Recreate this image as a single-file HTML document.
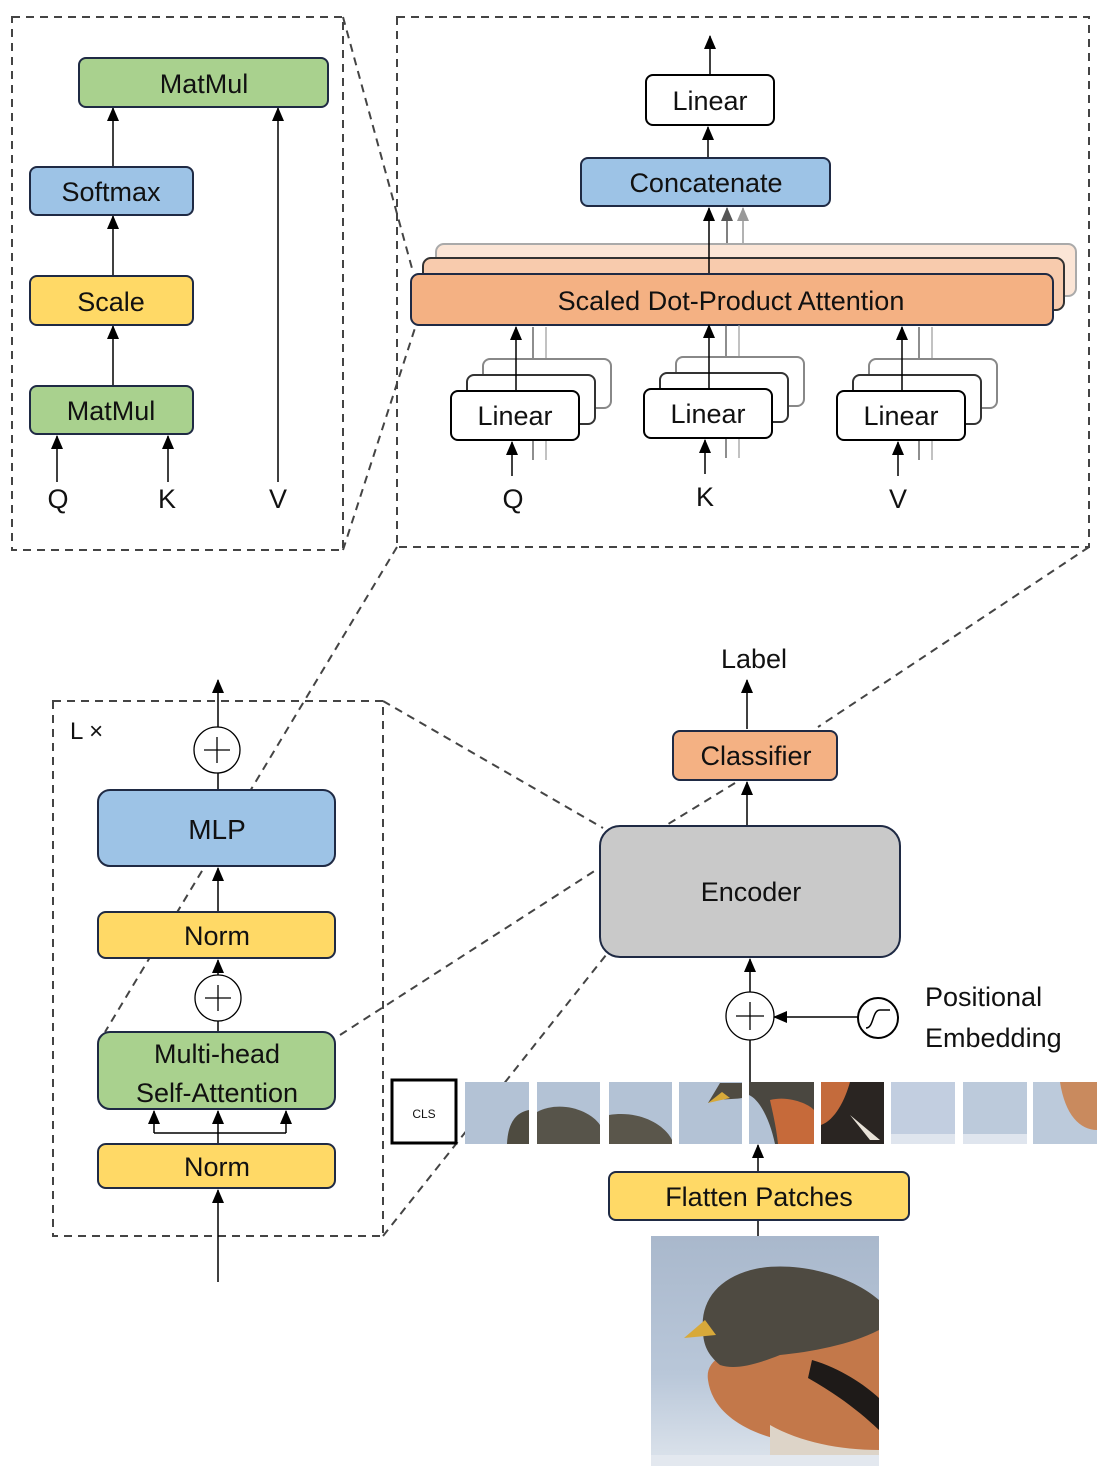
<!DOCTYPE html>
<html><head><meta charset="utf-8"><style>
html,body{margin:0;padding:0;background:#fff;}
svg{display:block;}
text{font-family:"Liberation Sans",sans-serif;fill:#111;}
</style></head><body>
<svg width="1116" height="1480" viewBox="0 0 1116 1480" xmlns="http://www.w3.org/2000/svg">
<defs>
<marker id="a" markerWidth="14" markerHeight="12" refX="13" refY="6" orient="auto" markerUnits="userSpaceOnUse" viewBox="0 0 14 12"><path d="M0,0 L14,6 L0,12 Z" fill="#000"/></marker>
<marker id="ag" markerWidth="14" markerHeight="12" refX="13" refY="6" orient="auto" markerUnits="userSpaceOnUse" viewBox="0 0 14 12"><path d="M0,0 L14,6 L0,12 Z" fill="#555"/></marker>
<marker id="al" markerWidth="14" markerHeight="12" refX="13" refY="6" orient="auto" markerUnits="userSpaceOnUse" viewBox="0 0 14 12"><path d="M0,0 L14,6 L0,12 Z" fill="#999"/></marker>
<linearGradient id="sky" x1="0" y1="0" x2="0" y2="1"><stop offset="0" stop-color="#a9b8cc"/><stop offset="0.6" stop-color="#b9c7d9"/><stop offset="1" stop-color="#dde4ec"/></linearGradient>
</defs>

<g fill="none" stroke="#444" stroke-width="2" stroke-dasharray="8,6">
<rect x="12" y="17" width="331" height="533"/>
<rect x="397" y="17" width="692" height="530"/>
<rect x="53" y="701" width="330" height="535"/>
<line x1="343" y1="17" x2="413" y2="272"/>
<line x1="343" y1="550" x2="415" y2="328"/>
<line x1="397" y1="547" x2="105" y2="1032"/>
<line x1="1089" y1="547" x2="818" y2="727"/>
<line x1="735" y1="783" x2="665" y2="826"/>
<line x1="383" y1="701" x2="603" y2="828"/>
<line x1="340" y1="1035" x2="596" y2="870"/>
<line x1="383" y1="1236" x2="606" y2="955"/>
</g>

<g stroke="#000" stroke-width="1.5" fill="none">
<line x1="57" y1="482" x2="57" y2="436" marker-end="url(#a)"/>
<line x1="168" y1="482" x2="168" y2="436" marker-end="url(#a)"/>
<line x1="278" y1="482" x2="278" y2="108" marker-end="url(#a)"/>
<line x1="113" y1="386" x2="113" y2="326" marker-end="url(#a)"/>
<line x1="113" y1="276" x2="113" y2="216" marker-end="url(#a)"/>
<line x1="113" y1="167" x2="113" y2="108" marker-end="url(#a)"/>
<line x1="710" y1="75" x2="710" y2="36" marker-end="url(#a)"/>
<line x1="708" y1="158" x2="708" y2="127" marker-end="url(#a)"/>
<line x1="727" y1="258" x2="727" y2="208" stroke="#555" marker-end="url(#ag)"/>
<line x1="743" y1="244" x2="743" y2="208" stroke="#999" marker-end="url(#al)"/>
</g>
<rect x="436" y="244" width="640" height="52" rx="8" fill="#fbe5d6" stroke="#aaa" stroke-width="2"/>
<rect x="423" y="258" width="641" height="52" rx="8" fill="#f8cbad" stroke="#333" stroke-width="2"/>
<line x1="709" y1="274" x2="709" y2="208" stroke="#000" stroke-width="1.5" marker-end="url(#a)"/>
<rect x="411" y="274" width="642" height="51" rx="8" fill="#f4b183" stroke="#1f2a44" stroke-width="2"/>
<text x="731" y="310" font-size="27" text-anchor="middle">Scaled Dot-Product Attention</text>

<g id="ls">
<line x1="533" y1="460" x2="533" y2="327" stroke="#444" stroke-width="1.2"/>
<line x1="546" y1="460" x2="546" y2="327" stroke="#999" stroke-width="1.2"/>
<rect x="483" y="359" width="128" height="49" rx="7" fill="#fff" stroke="#888" stroke-width="2"/>
<rect x="467" y="375" width="128" height="49" rx="7" fill="#fff" stroke="#333" stroke-width="2"/>
<rect x="451" y="391" width="128" height="49" rx="7" fill="#fff" stroke="#000" stroke-width="2"/>
<line x1="516" y1="391" x2="516" y2="327" stroke="#000" stroke-width="1.5" marker-end="url(#a)"/>
<line x1="512" y1="476" x2="512" y2="442" stroke="#000" stroke-width="1.5" marker-end="url(#a)"/>
<text x="515" y="425" font-size="27" text-anchor="middle">Linear</text>
</g>
<use href="#ls" x="193" y="-2"/>
<use href="#ls" x="386" y="0"/>
<text x="513" y="508" font-size="27" text-anchor="middle">Q</text>
<text x="705" y="506" font-size="27" text-anchor="middle">K</text>
<text x="898" y="508" font-size="27" text-anchor="middle">V</text>

<rect x="581" y="158" width="249" height="48" rx="7" fill="#9dc3e6" stroke="#1f2a44" stroke-width="2"/>
<text x="706" y="192" font-size="27" text-anchor="middle">Concatenate</text>
<rect x="646" y="75" width="128" height="50" rx="7" fill="#fff" stroke="#000" stroke-width="2"/>
<text x="710" y="110" font-size="27" text-anchor="middle">Linear</text>

<rect x="79" y="58" width="249" height="49" rx="7" fill="#a9d18e" stroke="#1f2a44" stroke-width="2"/>
<text x="204" y="93" font-size="27" text-anchor="middle">MatMul</text>
<rect x="30" y="167" width="163" height="48" rx="7" fill="#9dc3e6" stroke="#1f2a44" stroke-width="2"/>
<text x="111" y="201" font-size="27" text-anchor="middle">Softmax</text>
<rect x="30" y="276" width="163" height="49" rx="7" fill="#ffd966" stroke="#1f2a44" stroke-width="2"/>
<text x="111" y="311" font-size="27" text-anchor="middle">Scale</text>
<rect x="30" y="386" width="163" height="48" rx="7" fill="#a9d18e" stroke="#1f2a44" stroke-width="2"/>
<text x="111" y="420" font-size="27" text-anchor="middle">MatMul</text>
<text x="58" y="508" font-size="27" text-anchor="middle">Q</text>
<text x="167" y="508" font-size="27" text-anchor="middle">K</text>
<text x="278" y="508" font-size="27" text-anchor="middle">V</text>

<text x="70" y="739" font-size="24">L ×</text>
<g stroke="#000" stroke-width="1.5" fill="none">
<line x1="218" y1="727" x2="218" y2="680" marker-end="url(#a)"/>
<line x1="218" y1="790" x2="218" y2="773"/>
<line x1="218" y1="912" x2="218" y2="868" marker-end="url(#a)"/>
<line x1="218" y1="975" x2="218" y2="960" marker-end="url(#a)"/>
<line x1="218" y1="1032" x2="218" y2="1021"/>
<line x1="218" y1="1144" x2="218" y2="1111" marker-end="url(#a)"/>
<polyline points="154,1133 286,1133"/>
<line x1="154" y1="1133" x2="154" y2="1111" marker-end="url(#a)"/>
<line x1="286" y1="1133" x2="286" y2="1111" marker-end="url(#a)"/>
<line x1="218" y1="1282" x2="218" y2="1190" marker-end="url(#a)"/>
</g>
<g stroke="#000" stroke-width="1.3" fill="#fff">
<circle cx="217" cy="750" r="23"/>
<circle cx="218" cy="998" r="23"/>
</g>
<g stroke="#000" stroke-width="1.3">
<line x1="204" y1="750" x2="230" y2="750"/><line x1="217" y1="737" x2="217" y2="763"/>
<line x1="205" y1="998" x2="231" y2="998"/><line x1="218" y1="985" x2="218" y2="1011"/>
</g>
<rect x="98" y="790" width="237" height="76" rx="12" fill="#9dc3e6" stroke="#1f2a44" stroke-width="2"/>
<text x="217" y="839" font-size="28" text-anchor="middle">MLP</text>
<rect x="98" y="912" width="237" height="46" rx="8" fill="#ffd966" stroke="#1f2a44" stroke-width="2"/>
<text x="217" y="945" font-size="27" text-anchor="middle">Norm</text>
<rect x="98" y="1032" width="237" height="77" rx="12" fill="#a9d18e" stroke="#1f2a44" stroke-width="2"/>
<text x="217" y="1063" font-size="27" text-anchor="middle">Multi-head</text>
<text x="217" y="1102" font-size="27" text-anchor="middle">Self-Attention</text>
<rect x="98" y="1144" width="237" height="44" rx="8" fill="#ffd966" stroke="#1f2a44" stroke-width="2"/>
<text x="217" y="1176" font-size="27" text-anchor="middle">Norm</text>

<text x="754" y="668" font-size="27" text-anchor="middle">Label</text>
<g stroke="#000" stroke-width="1.5" fill="none">
<line x1="747" y1="729" x2="747" y2="680" marker-end="url(#a)"/>
<line x1="747" y1="826" x2="747" y2="782" marker-end="url(#a)"/>
<line x1="750" y1="992" x2="750" y2="959" marker-end="url(#a)"/>
<line x1="750" y1="1040" x2="750" y2="1082"/>
<line x1="858" y1="1017" x2="774" y2="1017" marker-end="url(#a)"/>
<line x1="758" y1="1172" x2="758" y2="1145" marker-end="url(#a)"/>
<line x1="758" y1="1236" x2="758" y2="1221"/>
</g>
<rect x="673" y="731" width="164" height="49" rx="7" fill="#f4b183" stroke="#1f2a44" stroke-width="2"/>
<text x="756" y="765" font-size="27" text-anchor="middle">Classifier</text>
<rect x="600" y="826" width="300" height="131" rx="20" fill="#c9c9c9" stroke="#1f2a44" stroke-width="2"/>
<text x="751" y="901" font-size="27" text-anchor="middle">Encoder</text>
<circle cx="750" cy="1016" r="24" fill="#fff" stroke="#000" stroke-width="1.3"/>
<line x1="736" y1="1016" x2="764" y2="1016" stroke="#000" stroke-width="1.3"/>
<line x1="750" y1="1002" x2="750" y2="1030" stroke="#000" stroke-width="1.3"/>
<circle cx="878" cy="1018" r="20" fill="#fff" stroke="#000" stroke-width="2"/>
<path d="M866,1028 C874,1028 872,1010 880,1010 L890,1010" fill="none" stroke="#000" stroke-width="1.5"/>
<text x="925" y="1006" font-size="27">Positional</text>
<text x="925" y="1047" font-size="27">Embedding</text>

<rect x="392" y="1080" width="64" height="63" fill="#fff" stroke="#000" stroke-width="3"/>
<text x="424" y="1118" font-size="12" text-anchor="middle">CLS</text>
<g>
<rect x="465" y="1082" width="64" height="62" fill="#b3c2d5"/>
<path d="M507,1144 C508,1120 518,1112 529,1110 L529,1144 Z" fill="#4e4b40"/>
<rect x="537" y="1082" width="63" height="62" fill="#b3c2d5"/>
<path d="M537,1144 L537,1112 C560,1100 590,1110 600,1125 L600,1144 Z" fill="#57544a"/>
<rect x="609" y="1082" width="63" height="62" fill="#b3c2d5"/>
<path d="M609,1144 L609,1115 C640,1110 665,1125 672,1140 L672,1144 Z" fill="#5a564b"/>
<rect x="679" y="1082" width="63" height="62" fill="#b3c2d5"/>
<path d="M720,1083 L742,1083 L742,1098 C730,1100 720,1098 708,1103 Z" fill="#4f4b42"/>
<path d="M708,1103 L722,1092 L730,1098 Z" fill="#d6a93a"/>
<rect x="749" y="1082" width="65" height="62" fill="#b3c2d5"/>
<path d="M749,1082 L814,1082 L814,1144 L775,1144 C770,1120 760,1100 749,1095 Z" fill="#4a4740"/>
<path d="M770,1100 C790,1095 810,1105 814,1110 L814,1144 L778,1144 C776,1125 772,1110 770,1100 Z" fill="#c66a3a"/>
<rect x="821" y="1082" width="63" height="62" fill="#2a2522"/>
<path d="M821,1082 L850,1082 C845,1100 835,1120 821,1125 Z" fill="#c46b3c"/>
<path d="M850,1115 L880,1140 L870,1140 Z" fill="#e8e2d8"/>
<rect x="891" y="1082" width="64" height="62" fill="#c2cee0"/>
<rect x="891" y="1134" width="64" height="10" fill="#dfe5ee"/>
<rect x="963" y="1082" width="64" height="62" fill="#bccadb"/>
<rect x="963" y="1134" width="64" height="10" fill="#dfe5ee"/>
<rect x="1033" y="1082" width="64" height="62" fill="#bccadb"/>
<path d="M1060,1082 L1097,1082 L1097,1130 C1080,1130 1065,1115 1060,1082 Z" fill="#c98a5e"/>
</g>

<rect x="609" y="1172" width="300" height="48" rx="7" fill="#ffd966" stroke="#1f2a44" stroke-width="2"/>
<text x="759" y="1206" font-size="27" text-anchor="middle">Flatten Patches</text>

<g>
<rect x="651" y="1236" width="228" height="230" fill="url(#sky)"/>
<path d="M879,1320 C850,1330 800,1340 760,1345 C725,1350 705,1360 708,1380 C712,1410 740,1430 780,1440 C810,1450 850,1452 879,1452 Z" fill="#c3784a"/>
<path d="M703,1330 C700,1300 720,1275 760,1268 C800,1262 850,1275 879,1300 L879,1330 C850,1345 810,1352 780,1355 C755,1365 735,1370 720,1365 C708,1355 703,1345 703,1330 Z" fill="#4e4a41"/>
<path d="M812,1360 C840,1368 865,1385 879,1398 L879,1430 C860,1412 838,1395 808,1378 Z" fill="#1e1a18"/>
<path d="M770,1425 C800,1442 840,1450 879,1450 L879,1466 L770,1466 Z" fill="#ddd4c8"/>
<path d="M684,1338 L705,1320 L716,1335 Z" fill="#d8a93a"/>
<rect x="651" y="1455" width="228" height="11" fill="#e3e8ef"/>
</g>
</svg>
</body></html>
